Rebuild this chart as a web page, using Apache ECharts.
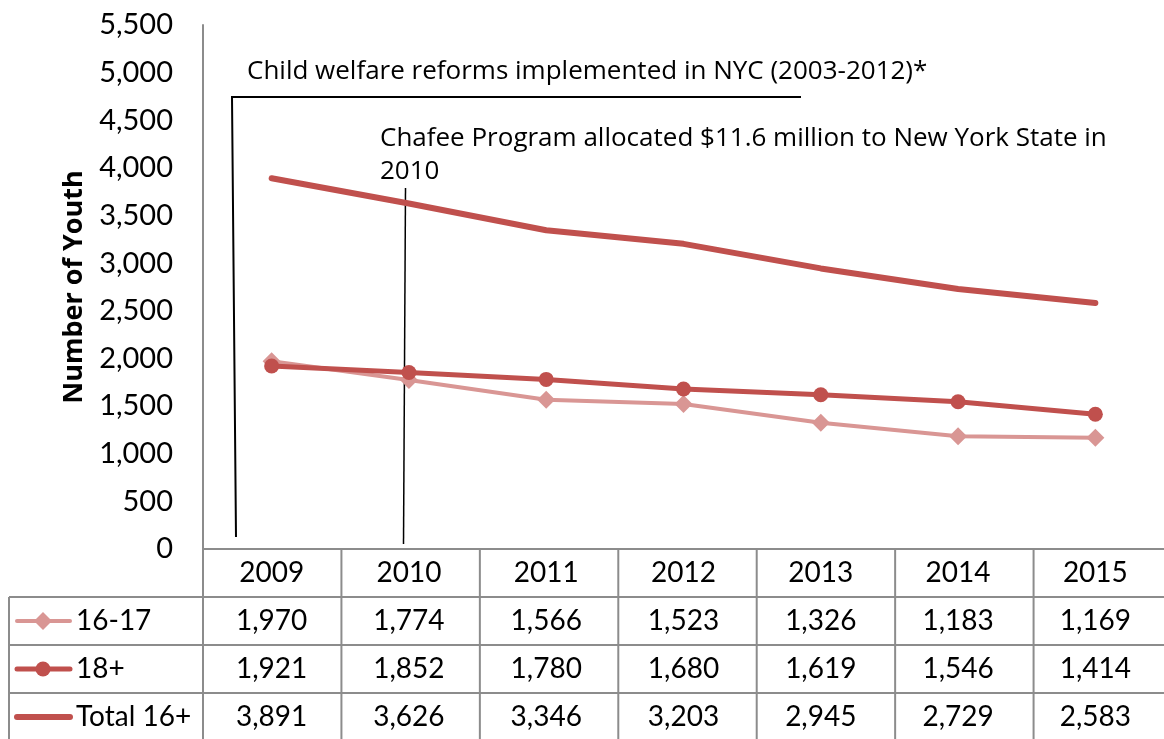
<!DOCTYPE html>
<html>
<head>
<meta charset="utf-8">
<script src="https://cdn.jsdelivr.net/npm/echarts@6/dist/echarts.min.js"></script>
<style>
  html, body { margin: 0; padding: 0; background: #fff; }
  #chart { width: 1164px; height: 739px; }
</style>
</head>
<body>
<div id="chart"></div>
<script>
// Youth aged 16+ in foster care, NYC
const years = ['2009', '2010', '2011', '2012', '2013', '2014', '2015'];
const age16to17 = [1970, 1774, 1566, 1523, 1326, 1183, 1169];
const age18plus = [1921, 1852, 1780, 1680, 1619, 1546, 1414];
const total16plus = [3891, 3626, 3346, 3203, 2945, 2729, 2583];
const seriesNames = ['16-17', '18+', 'Total 16+'];

const FONT = 'Lato, "Open Sans", sans-serif';
const NOTE_FONT = '"Open Sans", Lato, sans-serif';
const RED = '#C0504D';
const PINK = '#D99694';
const GRID_GRAY = '#8C8C8C';

const GRID = { left: 203, top: 25, width: 969, height: 524 };

const chart = echarts.init(document.getElementById('chart'), null, { renderer: 'canvas' });

const option = {
  animation: false,
  backgroundColor: '#fff',
  grid: GRID,
  xAxis: {
    type: 'category',
    data: years,
    boundaryGap: true,
    axisLine: { show: true, lineStyle: { color: GRID_GRAY, width: 2 } },
    axisTick: { show: false },
    axisLabel: { show: false },
    splitLine: { show: false }
  },
  yAxis: {
    type: 'value',
    min: 0,
    max: 5500,
    interval: 500,
    name: 'Number of Youth',
    nameLocation: 'middle',
    nameRotate: 90,
    nameGap: 114,
    nameTextStyle: { fontFamily: NOTE_FONT, fontSize: 27, fontWeight: 'bold', color: '#000' },
    axisLine: { show: true, lineStyle: { color: GRID_GRAY, width: 2 } },
    axisTick: { show: false },
    splitLine: { show: false },
    axisLabel: {
      margin: 30,
      fontFamily: FONT,
      fontSize: 29,
      color: '#000',
      formatter: v => v.toLocaleString('en-US')
    }
  },
  series: [
    {
      name: seriesNames[0],
      type: 'line',
      data: age16to17,
      symbol: 'diamond',
      symbolSize: 18,
      itemStyle: { color: PINK },
      lineStyle: { color: PINK, width: 4, cap: 'round' },
      z: 2
    },
    {
      name: seriesNames[1],
      type: 'line',
      data: age18plus,
      symbol: 'circle',
      symbolSize: 15,
      itemStyle: { color: RED },
      lineStyle: { color: RED, width: 5, cap: 'round' },
      z: 3
    },
    {
      name: seriesNames[2],
      type: 'line',
      data: total16plus,
      symbol: 'none',
      lineStyle: { color: RED, width: 6, cap: 'round' },
      z: 4
    }
  ]
};

chart.setOption(option);

// Data table under the plot, aligned to the category axis
function buildTable() {
  const g = [];
  const colW = GRID.width / years.length;
  const top = GRID.top + GRID.height;
  const rowH = 48;
  const rows = [age16to17, age18plus, total16plus];
  const lineStyle = { stroke: GRID_GRAY, lineWidth: 2 };
  const bottom = 760;
  const right = GRID.left + GRID.width;

  // row separators (the header's top edge is the x axis line)
  for (let r = 1; r <= rows.length; r++) {
    const y = top + r * rowH;
    g.push({ type: 'line', shape: { x1: 9, y1: y, x2: right, y2: y }, style: lineStyle, silent: true });
  }
  // left border of the legend column
  g.push({ type: 'line', shape: { x1: 9, y1: top + rowH, x2: 9, y2: bottom }, style: lineStyle, silent: true });
  // column separators
  for (let c = 0; c <= years.length; c++) {
    const x = GRID.left + c * colW;
    g.push({ type: 'line', shape: { x1: x, y1: top, x2: x, y2: bottom }, style: lineStyle, silent: true });
  }

  const cellFont = '28px ' + FONT;
  // header years
  years.forEach(yr => {
    const x = chart.convertToPixel({ xAxisIndex: 0 }, yr);
    g.push({ type: 'text', silent: true, style: { text: yr, x: x, y: top + rowH / 2, font: cellFont, fill: '#000', align: 'center', verticalAlign: 'middle' } });
  });
  // values and legend keys
  rows.forEach((vals, r) => {
    const yc = top + (r + 1) * rowH + rowH / 2;
    vals.forEach((v, i) => {
      const x = chart.convertToPixel({ xAxisIndex: 0 }, years[i]);
      g.push({ type: 'text', silent: true, style: { text: v.toLocaleString('en-US'), x: x, y: yc, font: cellFont, fill: '#000', align: 'center', verticalAlign: 'middle' } });
    });
    const kx1 = 17, kx2 = 70, kc = 43;
    const color = r === 0 ? PINK : RED;
    const lw = r === 0 ? 4 : (r === 1 ? 5 : 6);
    g.push({ type: 'line', silent: true, shape: { x1: kx1, y1: yc, x2: kx2, y2: yc }, style: { stroke: color, lineWidth: lw, lineCap: 'round' } });
    if (r === 0) {
      g.push({ type: 'polygon', silent: true, shape: { points: [[kc, yc - 9], [kc + 9, yc], [kc, yc + 9], [kc - 9, yc]] }, style: { fill: color } });
    } else if (r === 1) {
      g.push({ type: 'circle', silent: true, shape: { cx: kc, cy: yc, r: 7.5 }, style: { fill: color } });
    }
    g.push({ type: 'text', silent: true, style: { text: seriesNames[r], x: 76, y: yc, font: cellFont, fill: '#000', align: 'left', verticalAlign: 'middle' } });
  });

  // annotations
  const annFont = '26px ' + NOTE_FONT;
  g.push({ type: 'text', silent: true, style: { text: 'Child welfare reforms implemented in NYC (2003-2012)*', x: 247, y: 72, font: annFont, fill: '#000', align: 'left', verticalAlign: 'middle' } });
  g.push({ type: 'polyline', silent: true, shape: { points: [[236, 537], [232, 97], [801, 97]] }, style: { stroke: '#000', lineWidth: 2, fill: null } });
  g.push({ type: 'text', silent: true, style: { text: 'Chafee Program allocated $11.6 million to New York State in', x: 380, y: 139, font: annFont, fill: '#000', align: 'left', verticalAlign: 'middle' } });
  g.push({ type: 'text', silent: true, style: { text: '2010', x: 380, y: 172, font: annFont, fill: '#000', align: 'left', verticalAlign: 'middle' } });
  g.push({ type: 'line', silent: true, shape: { x1: 405.5, y1: 188, x2: 403.5, y2: 544 }, style: { stroke: '#000', lineWidth: 1.5 } });

  return g;
}

chart.setOption({ graphic: { elements: buildTable() } });
</script>
</body>
</html>
